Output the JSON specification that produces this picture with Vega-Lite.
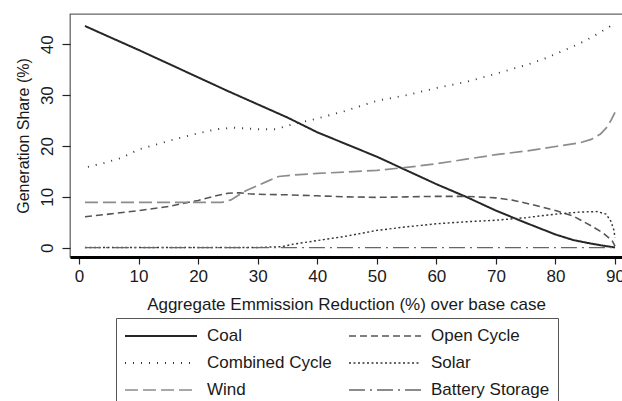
{
  "$schema": "https://vega.github.io/schema/vega-lite/v6.json",
  "autosize": {"type": "none"},
  "padding": {"left": 70, "top": 14, "right": 0, "bottom": 144},
  "width": 552,
  "height": 243,
  "background": "#ffffff",
  "config": {
    "font": "Liberation Sans",
    "view": {"stroke": "#666666", "strokeWidth": 1.3, "strokeDash": [552, 243, 1000, 0]},
    "axis": {
      "grid": false,
      "labelFont": "Liberation Sans",
      "labelFontSize": 17,
      "labelColor": "#1a1a1a",
      "titleFont": "Liberation Sans",
      "titleFontSize": 17,
      "titleFontWeight": "normal",
      "titleColor": "#1a1a1a",
      "tickColor": "#222222",
      "tickWidth": 1.2,
      "tickSize": 8
    },
    "legend": {
      "orient": "none",
      "legendX": 46,
      "legendY": 304,
      "columns": 2,
      "strokeColor": "#555555",
      "padding": 8,
      "symbolType": "stroke",
      "symbolSize": 5184,
      "symbolStrokeWidth": 1.8,
      "clipHeight": 20,
      "rowPadding": 7,
      "columnPadding": 16,
      "labelOffset": 9,
      "labelFont": "Liberation Sans",
      "labelFontSize": 17,
      "labelColor": "#1a1a1a",
      "labelLimit": 300
    }
  },
  "data": {
    "values": [
      {"series": "Coal", "x": 1, "y": 43.6},
      {"series": "Coal", "x": 5, "y": 41.5},
      {"series": "Coal", "x": 10, "y": 38.9},
      {"series": "Coal", "x": 15, "y": 36.2},
      {"series": "Coal", "x": 20, "y": 33.5},
      {"series": "Coal", "x": 25, "y": 30.8},
      {"series": "Coal", "x": 30, "y": 28.2},
      {"series": "Coal", "x": 35, "y": 25.6},
      {"series": "Coal", "x": 40, "y": 22.7},
      {"series": "Coal", "x": 45, "y": 20.3},
      {"series": "Coal", "x": 50, "y": 17.9},
      {"series": "Coal", "x": 55, "y": 15.2},
      {"series": "Coal", "x": 60, "y": 12.5},
      {"series": "Coal", "x": 65, "y": 10.0},
      {"series": "Coal", "x": 70, "y": 7.3},
      {"series": "Coal", "x": 75, "y": 4.9},
      {"series": "Coal", "x": 80, "y": 2.6},
      {"series": "Coal", "x": 83, "y": 1.5},
      {"series": "Coal", "x": 86, "y": 0.8},
      {"series": "Coal", "x": 88, "y": 0.4},
      {"series": "Coal", "x": 90, "y": 0.05},

      {"series": "Open Cycle", "x": 1, "y": 6.1},
      {"series": "Open Cycle", "x": 5, "y": 6.6},
      {"series": "Open Cycle", "x": 10, "y": 7.3},
      {"series": "Open Cycle", "x": 15, "y": 8.1},
      {"series": "Open Cycle", "x": 20, "y": 9.3},
      {"series": "Open Cycle", "x": 23, "y": 10.2},
      {"series": "Open Cycle", "x": 25, "y": 10.7},
      {"series": "Open Cycle", "x": 27, "y": 10.8},
      {"series": "Open Cycle", "x": 28.5, "y": 10.6},
      {"series": "Open Cycle", "x": 30, "y": 10.5},
      {"series": "Open Cycle", "x": 35, "y": 10.4},
      {"series": "Open Cycle", "x": 40, "y": 10.2},
      {"series": "Open Cycle", "x": 45, "y": 10.0},
      {"series": "Open Cycle", "x": 50, "y": 9.9},
      {"series": "Open Cycle", "x": 55, "y": 10.0},
      {"series": "Open Cycle", "x": 60, "y": 10.1},
      {"series": "Open Cycle", "x": 65, "y": 10.1},
      {"series": "Open Cycle", "x": 70, "y": 9.8},
      {"series": "Open Cycle", "x": 73, "y": 9.3},
      {"series": "Open Cycle", "x": 76, "y": 8.5},
      {"series": "Open Cycle", "x": 80, "y": 7.3},
      {"series": "Open Cycle", "x": 83, "y": 6.2},
      {"series": "Open Cycle", "x": 86, "y": 4.3},
      {"series": "Open Cycle", "x": 88, "y": 2.9},
      {"series": "Open Cycle", "x": 89.5, "y": 1.4},
      {"series": "Open Cycle", "x": 90, "y": 0.3},

      {"series": "Combined Cycle", "x": 1.5, "y": 15.9},
      {"series": "Combined Cycle", "x": 4, "y": 16.6},
      {"series": "Combined Cycle", "x": 7, "y": 17.6},
      {"series": "Combined Cycle", "x": 10, "y": 19.3},
      {"series": "Combined Cycle", "x": 13, "y": 20.3},
      {"series": "Combined Cycle", "x": 16, "y": 21.3},
      {"series": "Combined Cycle", "x": 20, "y": 22.5},
      {"series": "Combined Cycle", "x": 23, "y": 23.3},
      {"series": "Combined Cycle", "x": 26, "y": 23.6},
      {"series": "Combined Cycle", "x": 30, "y": 23.3},
      {"series": "Combined Cycle", "x": 33, "y": 23.3},
      {"series": "Combined Cycle", "x": 36, "y": 24.3},
      {"series": "Combined Cycle", "x": 40, "y": 25.4},
      {"series": "Combined Cycle", "x": 45, "y": 27.0},
      {"series": "Combined Cycle", "x": 50, "y": 28.9},
      {"series": "Combined Cycle", "x": 55, "y": 30.0},
      {"series": "Combined Cycle", "x": 60, "y": 31.4},
      {"series": "Combined Cycle", "x": 65, "y": 32.6},
      {"series": "Combined Cycle", "x": 70, "y": 34.2},
      {"series": "Combined Cycle", "x": 75, "y": 35.9},
      {"series": "Combined Cycle", "x": 78, "y": 37.1},
      {"series": "Combined Cycle", "x": 80, "y": 38.1},
      {"series": "Combined Cycle", "x": 83, "y": 39.6},
      {"series": "Combined Cycle", "x": 85, "y": 40.7},
      {"series": "Combined Cycle", "x": 87, "y": 42.0},
      {"series": "Combined Cycle", "x": 89, "y": 43.4},
      {"series": "Combined Cycle", "x": 90, "y": 44.3},

      {"series": "Solar", "x": 1, "y": 0.05},
      {"series": "Solar", "x": 10, "y": 0.05},
      {"series": "Solar", "x": 20, "y": 0.05},
      {"series": "Solar", "x": 30, "y": 0.05},
      {"series": "Solar", "x": 34, "y": 0.2},
      {"series": "Solar", "x": 36, "y": 0.7},
      {"series": "Solar", "x": 40, "y": 1.4},
      {"series": "Solar", "x": 45, "y": 2.3},
      {"series": "Solar", "x": 50, "y": 3.4},
      {"series": "Solar", "x": 55, "y": 4.1},
      {"series": "Solar", "x": 60, "y": 4.7},
      {"series": "Solar", "x": 65, "y": 5.1},
      {"series": "Solar", "x": 70, "y": 5.4},
      {"series": "Solar", "x": 75, "y": 5.9},
      {"series": "Solar", "x": 80, "y": 6.6},
      {"series": "Solar", "x": 84, "y": 7.0},
      {"series": "Solar", "x": 87, "y": 7.1},
      {"series": "Solar", "x": 88.5, "y": 6.6},
      {"series": "Solar", "x": 89.3, "y": 5.2},
      {"series": "Solar", "x": 89.8, "y": 3.5},
      {"series": "Solar", "x": 90, "y": 2.0},

      {"series": "Wind", "x": 1, "y": 8.9},
      {"series": "Wind", "x": 10, "y": 8.9},
      {"series": "Wind", "x": 20, "y": 8.9},
      {"series": "Wind", "x": 24, "y": 8.9},
      {"series": "Wind", "x": 25.5, "y": 9.4},
      {"series": "Wind", "x": 28, "y": 11.2},
      {"series": "Wind", "x": 31.5, "y": 13.0},
      {"series": "Wind", "x": 33.5, "y": 14.0},
      {"series": "Wind", "x": 36, "y": 14.3},
      {"series": "Wind", "x": 40, "y": 14.6},
      {"series": "Wind", "x": 45, "y": 14.9},
      {"series": "Wind", "x": 50, "y": 15.2},
      {"series": "Wind", "x": 55, "y": 15.8},
      {"series": "Wind", "x": 60, "y": 16.5},
      {"series": "Wind", "x": 65, "y": 17.4},
      {"series": "Wind", "x": 70, "y": 18.3},
      {"series": "Wind", "x": 75, "y": 19.0},
      {"series": "Wind", "x": 80, "y": 19.9},
      {"series": "Wind", "x": 84, "y": 20.6},
      {"series": "Wind", "x": 86, "y": 21.3},
      {"series": "Wind", "x": 87.5, "y": 22.3},
      {"series": "Wind", "x": 88.5, "y": 23.5},
      {"series": "Wind", "x": 89.3, "y": 25.0},
      {"series": "Wind", "x": 90, "y": 26.6},

      {"series": "Battery Storage", "x": 1, "y": 0},
      {"series": "Battery Storage", "x": 30, "y": 0},
      {"series": "Battery Storage", "x": 60, "y": 0},
      {"series": "Battery Storage", "x": 90, "y": 0}
    ]
  },
  "mark": {"type": "line", "strokeCap": "butt", "strokeJoin": "round"},
  "encoding": {
    "x": {
      "field": "x",
      "type": "quantitative",
      "scale": {"domain": [-1.511, 91.17], "nice": false, "zero": false},
      "axis": {
        "title": "Aggregate Emmission Reduction (%) over base case",
        "values": [0, 10, 20, 30, 40, 50, 60, 70, 80, 90],
        "domainColor": "#000000",
        "domainWidth": 3,
        "tickSize": 7,
        "labelPadding": 4,
        "titleBaseline": "alphabetic",
        "titleY": 52
      }
    },
    "y": {
      "field": "y",
      "type": "quantitative",
      "scale": {"domain": [-1.83, 45.96], "nice": false, "zero": false},
      "axis": {
        "title": "Generation Share (%)",
        "titleFontSize": 16,
        "values": [0, 10, 20, 30, 40],
        "domain": false,
        "labelAngle": -90,
        "labelAlign": "center",
        "labelBaseline": "alphabetic",
        "labelPadding": 10,
        "titleBaseline": "alphabetic",
        "titleX": -41.5
      }
    },
    "detail": {"field": "series"},
    "color": {
      "field": "series",
      "type": "nominal",
      "title": null,
      "scale": {
        "domain": ["Coal", "Combined Cycle", "Wind", "Open Cycle", "Solar", "Battery Storage"],
        "range": ["#262626", "#333333", "#8c8c8c", "#555555", "#333333", "#666666"]
      }
    },
    "strokeDash": {
      "field": "series",
      "type": "nominal",
      "title": null,
      "scale": {
        "domain": ["Coal", "Combined Cycle", "Wind", "Open Cycle", "Solar", "Battery Storage"],
        "range": [[1, 0], [1, 7], [13, 5], [7, 4], [2, 2.5], [16, 5, 2, 5]]
      }
    },
    "strokeWidth": {
      "field": "series",
      "type": "nominal",
      "title": null,
      "scale": {
        "domain": ["Coal", "Combined Cycle", "Wind", "Open Cycle", "Solar", "Battery Storage"],
        "range": [2, 1.3, 2, 2, 1.6, 2]
      }
    }
  }
}
